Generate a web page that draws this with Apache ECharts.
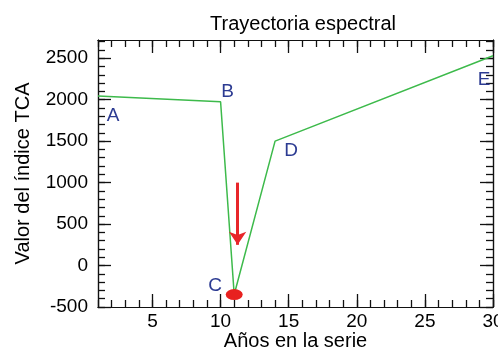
<!DOCTYPE html>
<html>
<head>
<meta charset="utf-8">
<script src="https://cdn.jsdelivr.net/npm/echarts@6/dist/echarts.min.js"></script>
<style>
  html, body { margin: 0; padding: 0; background: #fff; }
  #main { width: 498px; height: 350px; }
</style>
</head>
<body>
<div id="main"></div>
<script>
	// datos de la trayectoria
	var years = [1, 10, 11, 14, 30];
	var tca = [2045, 1975, -350, 1500, 2530];
	var pointNames = ['A', 'B', 'C', 'D', 'E'];
	var xMajor = [5, 10, 15, 20, 25, 30];
	var xMinor = [];
	for (var i = 1; i <= 30; i++) xMinor.push(i);
	var yMajor = [-500, 0, 500, 1000, 1500, 2000, 2500];
	var yMinor = [];
	for (var v = -500; v <= 2700; v += 100) yMinor.push(v);
	// flecha roja (año, desde, hasta)
	var arrowYear = 11.25;
	var arrowFrom = 1000;
	var arrowTo = 250;

	var font = 'Liberation Sans, Arial, Helvetica, sans-serif';
	var labelOffsets = [[15, 20], [7, -10], [-19, -9], [16, 10], [-9, 24]];

	var myChart = echarts.init(document.getElementById('main'));

	function xAx(pos, ticks, len, withLabel) {
		return {
			type: 'value', position: pos, min: 1, max: 30, gridIndex: 0,
			splitLine: { show: false },
			axisLine: { show: true, onZero: false, lineStyle: { color: '#111', width: 1.2 } },
			axisTick: { show: true, inside: true, length: len, customValues: ticks, lineStyle: { color: '#111', width: 1.3 } },
			axisLabel: withLabel ? {
				show: true, customValues: xMajor, color: '#000', fontSize: 19, fontFamily: font, margin: 5,
				formatter: function (val) { return String(val); }
			} : { show: false },
			name: withLabel ? 'Años en la serie' : '',
			nameLocation: 'middle', nameGap: 24, nameMoveOverlap: false,
			nameTextStyle: { color: '#000', fontSize: 20, fontFamily: font }
		};
	}
	function yAx(pos, ticks, len, withLabel) {
		return {
			type: 'value', position: pos, min: -500, max: 2720, gridIndex: 0,
			splitLine: { show: false },
			axisLine: { show: true, onZero: false, lineStyle: { color: '#111', width: 1.2 } },
			axisTick: { show: true, inside: true, length: len, customValues: ticks, lineStyle: { color: '#111', width: 1.3 } },
			axisLabel: withLabel ? {
				show: true, customValues: yMajor, color: '#000', fontSize: 19, fontFamily: font, margin: 10,
				formatter: function (val) { return String(val); }
			} : { show: false },
			name: withLabel ? 'Valor del índice TCA' : '',
			nameLocation: 'middle', nameGap: 65, nameMoveOverlap: false,
			nameTextStyle: { color: '#000', fontSize: 20, fontFamily: font }
		};
	}

	var lineData = [];
	for (var k = 0; k < years.length; k++) {
		lineData.push({
			value: [years[k], tca[k]],
			label: { show: true, formatter: pointNames[k], position: 'inside', offset: labelOffsets[k] }
		});
	}

	myChart.setOption({
		animation: false,
		title: {
			text: 'Trayectoria espectral',
			left: 298, top: 9, textAlign: 'center',
			textStyle: { fontWeight: 'normal', color: '#000', fontSize: 20, fontFamily: font }
		},
		grid: { left: 98, right: 5, top: 40, bottom: 43, outerBoundsMode: 'none' },
		xAxis: [
			xAx('bottom', xMajor, 13, true),
			xAx('bottom', xMinor, 7, false),
			xAx('top', xMajor, 13, false),
			xAx('top', xMinor, 7, false)
		],
		yAxis: [
			yAx('left', yMajor, 13, true),
			yAx('left', yMinor, 7, false),
			yAx('right', yMajor, 13, false),
			yAx('right', yMinor, 7, false)
		],
		series: [
			{
				type: 'line',
				data: lineData,
				symbol: 'circle',
				symbolSize: 0.1,
				itemStyle: { color: '#3dba4b' },
				lineStyle: { color: '#3dba4b', width: 1.5 },
				label: { color: '#2c3b92', fontSize: 19, fontFamily: font },
				markLine: {
					silent: true,
					symbol: ['none', 'arrow'],
					symbolSize: [13, 13],
					label: { show: false },
					lineStyle: { color: '#e8262a', width: 3, type: 'solid' },
					data: [[{ coord: [arrowYear, arrowFrom] }, { coord: [arrowYear, arrowTo] }]]
				}
			},
			{
				type: 'scatter',
				data: [[years[2], tca[2]]],
				symbol: 'circle',
				symbolSize: [17, 11],
				itemStyle: { color: '#e8211f', opacity: 1 },
				z: 5
			}
		]
	});
</script>
</body>
</html>
